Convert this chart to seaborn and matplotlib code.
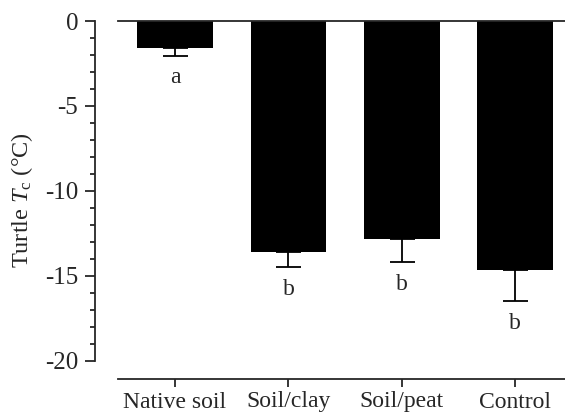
import seaborn as sns
import pandas as pd
import numpy as np
import matplotlib.pyplot as plt
from matplotlib.ticker import FixedLocator

# values
groups = ["Native soil", "Soil/clay", "Soil/peat", "Control"]
tc_mean = [-1.6, -13.6, -12.8, -14.65]
tc_err = [0.44, 0.9, 1.38, 1.82]
letters = ["a", "b", "b", "b"]

sns.set_style("ticks")
plt.rcParams["font.family"] = ["Liberation Serif", "DejaVu Serif"]
plt.rcParams["mathtext.fontset"] = "custom"
plt.rcParams["mathtext.rm"] = "Liberation Serif"
plt.rcParams["mathtext.it"] = "Liberation Serif:italic"

df = pd.DataFrame({"group": groups, "tc": tc_mean})

fig = plt.figure(figsize=(5.65, 4.2), dpi=100)
ax = fig.add_axes([95 / 565, 1 - 379 / 420, 1 - 95 / 565, (379 - 21) / 420])

sns.barplot(data=df, x="group", y="tc", color="black", errorbar=None,
            width=0.667, linewidth=0, saturation=1, ax=ax)

x = np.arange(len(groups))
lower = np.array(tc_err)
ax.errorbar(x, tc_mean, yerr=[lower, np.zeros_like(lower)], fmt="none",
            ecolor="black", elinewidth=1.3, capsize=9, capthick=1.3)

for xi, m, e, t in zip(x, tc_mean, tc_err, letters):
    ax.annotate(t, (xi, m - e), xytext=(0, -8.5), textcoords="offset points",
                ha="center", va="top", fontsize=17)

ax.set_xlim(-0.706, 3.44)
ax.set_ylim(-21.06, 0)
ax.set_yticks([0, -5, -10, -15, -20])
ax.set_yticklabels(["0", "-5", "-10", "-15", "-20"])
ax.yaxis.set_minor_locator(FixedLocator([v for v in range(-19, 0) if v % 5]))

for side in ["left", "bottom", "top"]:
    ax.spines[side].set_visible(True)
    ax.spines[side].set_linewidth(1.3)
ax.spines["right"].set_visible(False)
ax.spines["left"].set_bounds(-20, 0)
ax.spines["bottom"].set_bounds(-0.5, 3.5)
ax.spines["top"].set_bounds(-0.5, 3.5)

ax.tick_params(axis="y", which="major", length=7, width=1.3, labelsize=18, pad=5)
ax.tick_params(axis="y", which="minor", length=3.6, width=1.3)
ax.tick_params(axis="x", length=6, width=1.3, labelsize=17, pad=3)

ax.set_xlabel("")
ax.set_ylabel(r"Turtle $T_{\mathrm{c}}$ (°C)", fontsize=17.5, labelpad=7)

fig.savefig("out.png", dpi=100)
